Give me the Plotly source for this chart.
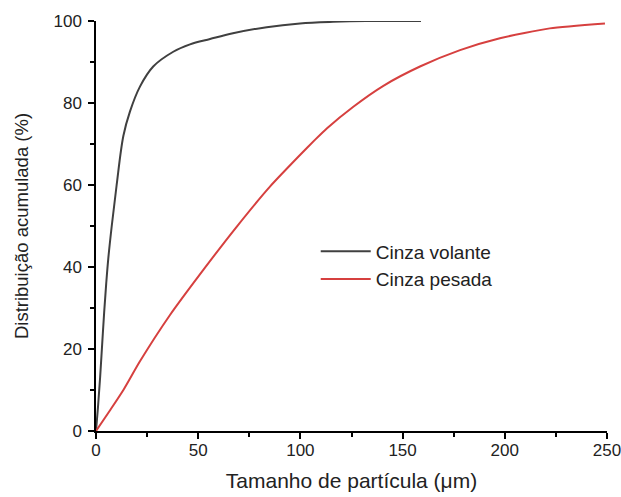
import plotly.graph_objects as go

# Cinza volante (fly ash)
volante_x = [0, 1, 2, 3, 4, 5, 6, 7.7, 10.1, 13.4, 16.6, 21.5, 28, 37.8, 46, 55.8, 67, 83.5, 99.8, 116, 132, 159]
volante_y = [0, 6, 13, 21, 29, 36, 42, 50, 60, 72, 77.9, 84, 88.9, 92.5, 94.3, 95.6, 97, 98.5, 99.4, 99.8, 100, 100]

# Cinza pesada (bottom ash)
pesada_x = [0, 6.8, 13.4, 21.5, 36.2, 52.5, 68.8, 85.1, 99.8, 107.1, 112.9, 125.9, 140.6, 158.5, 178.1, 197.6, 222, 249]
pesada_y = [0, 5, 10, 17, 28.3, 39.3, 49.8, 59.6, 67.3, 71, 73.8, 79.1, 84.2, 88.9, 92.9, 95.8, 98.2, 99.4]

x_ticks = [0, 50, 100, 150, 200, 250]
y_ticks = [0, 20, 40, 60, 80, 100]

FONT = "Liberation Sans, Arial, sans-serif"

fig = go.Figure()
fig.add_trace(go.Scatter(x=volante_x, y=volante_y, mode="lines", name="Cinza volante",
                         line=dict(color="#404040", width=2, shape="spline", smoothing=1.0)))
fig.add_trace(go.Scatter(x=pesada_x, y=pesada_y, mode="lines", name="Cinza pesada",
                         line=dict(color="#d6403f", width=2, shape="spline", smoothing=0.6)))

axis_common = dict(
    showline=True, linecolor="black", linewidth=1.5,
    ticks="outside", ticklen=6, tickwidth=1.5, tickcolor="black",
    showgrid=False, zeroline=False, automargin=False,
    ticklabeloverflow="allow",
    tickfont=dict(family=FONT, size=17, color="#222"),
)

fig.update_xaxes(range=[0, 250], tickvals=x_ticks, title_text="Tamanho de partícula (μm)",
                 title_font=dict(family=FONT, size=21, color="#222"),
                 minor=dict(dtick=25, ticks="outside", ticklen=4, tickwidth=1.5, tickcolor="black"),
                 ticklabelstandoff=-3, title_standoff=14, **axis_common)
fig.update_yaxes(range=[0, 100], tickvals=y_ticks, title_text="Distribuição acumulada (%)",
                 title_font=dict(family=FONT, size=18.5, color="#222"),
                 minor=dict(dtick=10, ticks="outside", ticklen=4, tickwidth=1.5, tickcolor="black"),
                 ticklabelstandoff=3, title_standoff=20, **axis_common)

fig.update_layout(
    width=621, height=497,
    margin=dict(l=96, r=14, t=21, b=66),
    plot_bgcolor="white", paper_bgcolor="white",
    font=dict(family=FONT, color="#222"),
    legend=dict(x=0.43, y=0.404, xanchor="left", yanchor="middle",
                font=dict(family=FONT, size=19, color="#222"),
                bgcolor="rgba(0,0,0,0)", itemwidth=50, tracegroupgap=0),
)

# remove the default page margin so the figure fills the window exactly
fig.write_html("out.html",
               config={"displayModeBar": False},
               post_script="document.body.style.margin='0';document.body.style.overflow='hidden';")
